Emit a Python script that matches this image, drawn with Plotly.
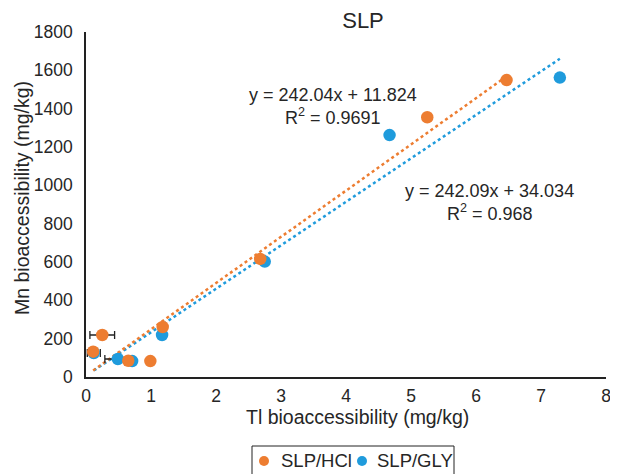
import numpy as np
import plotly.graph_objects as go

# Data
hcl_x = [0.11, 0.25, 0.65, 0.99, 1.18, 2.68, 5.25, 6.47]
hcl_y = [132, 219, 85, 83, 261, 616, 1355, 1549]
hcl_xerr = [0, 0.19, 0, 0, 0, 0, 0, 0]

gly_x = [0.12, 0.49, 0.71, 1.17, 2.75, 4.67, 7.29]
gly_y = [125, 94, 83, 219, 602, 1262, 1562]
gly_xerr = [0.1, 0.2, 0, 0, 0, 0, 0]

eq_hcl = ["y = 242.04x + 11.824", "R<sup>2</sup> = 0.9691"]
eq_gly = ["y = 242.09x + 34.034", "R<sup>2</sup> = 0.968"]

series_names = ["SLP/HCl", "SLP/GLY"]

ORANGE = "#ED7D31"
BLUE = "#1F9BDC"
TXT = "#262626"
FONT = "Liberation Sans, Arial, sans-serif"

# the page body has an 8px margin; the figure sits at (8, 8)
OFF = 8
PAGE_W, PAGE_H = 618, 474
W, H = PAGE_W - OFF, PAGE_H - OFF
# plot area in page pixels: x 86..606, y 32..377
L, R, T, B = 86 - OFF, PAGE_W - 606, 32 - OFF, PAGE_H - 377
PW, PH = W - L - R, H - T - B


def px2paper(px, py):
    """page pixel -> paper coordinates"""
    return (px - OFF - L) / PW, (H - B - (py - OFF)) / PH


def trend(xs, ys):
    k, b = np.polyfit(xs, ys, 1)
    xx = np.array([min(xs), max(xs)])
    return xx, k * xx + b


fig = go.Figure()

tx, ty = trend(gly_x, gly_y)
fig.add_trace(go.Scatter(x=tx, y=ty, mode="lines", line=dict(color=BLUE, width=2.5, dash="dot"),
                         showlegend=False, hoverinfo="skip"))
tx, ty = trend(hcl_x, hcl_y)
fig.add_trace(go.Scatter(x=tx, y=ty, mode="lines", line=dict(color=ORANGE, width=2.5, dash="dot"),
                         showlegend=False, hoverinfo="skip"))

fig.add_trace(go.Scatter(x=gly_x, y=gly_y, mode="markers", name=series_names[1],
                         marker=dict(color=BLUE, size=12.5), showlegend=False,
                         error_x=dict(type="data", array=gly_xerr, color="#222", thickness=1.3, width=4)))
fig.add_trace(go.Scatter(x=hcl_x, y=hcl_y, mode="markers", name=series_names[0],
                         marker=dict(color=ORANGE, size=12.5), showlegend=False,
                         error_x=dict(type="data", array=hcl_xerr, color="#222", thickness=1.3, width=4)))

# equation labels
for txt, (ax, ay) in zip(eq_hcl, [(333, 95), (333, 116)]):
    xp, yp = px2paper(ax, ay)
    fig.add_annotation(xref="paper", yref="paper", x=xp, y=yp, text=txt, showarrow=False,
                       xanchor="center", yanchor="middle", font=dict(size=18, color=TXT, family=FONT))
for txt, (ax, ay) in zip(eq_gly, [(489, 191), (490, 212)]):
    xp, yp = px2paper(ax, ay)
    fig.add_annotation(xref="paper", yref="paper", x=xp, y=yp, text=txt, showarrow=False,
                       xanchor="center", yanchor="middle", font=dict(size=18, color=TXT, family=FONT))

# axis titles
xp, yp = px2paper(357, 417)
fig.add_annotation(xref="paper", yref="paper", x=xp, y=yp, text="Tl bioaccessibility (mg/kg)",
                   showarrow=False, xanchor="center", yanchor="middle",
                   font=dict(size=19.5, color=TXT, family=FONT))
xp, yp = px2paper(22, 198)
fig.add_annotation(xref="paper", yref="paper", x=xp, y=yp, text="Mn bioaccessibility (mg/kg)",
                   showarrow=False, xanchor="center", yanchor="middle", textangle=-90,
                   font=dict(size=19.5, color=TXT, family=FONT))

# custom legend (box, markers, labels)
x0, y0 = px2paper(252, 446)
x1, y1 = px2paper(454, 480)
fig.add_shape(type="rect", xref="paper", yref="paper", x0=x0, y0=y0, x1=x1, y1=y1,
              line=dict(color="#222", width=1), fillcolor="white", layer="above")
for name, col, mx, tx_ in [(series_names[0], ORANGE, 264, 279), (series_names[1], BLUE, 362, 375)]:
    cx, cy = px2paper(mx, 461)
    fig.add_shape(type="circle", xref="paper", yref="paper", xsizemode="pixel", ysizemode="pixel",
                  xanchor=cx, yanchor=cy, x0=-5, x1=5, y0=-5, y1=5,
                  fillcolor=col, line=dict(color=col, width=0), layer="above")
    lx, ly = px2paper(tx_, 460)
    fig.add_annotation(xref="paper", yref="paper", x=lx, y=ly, text=name, showarrow=False,
                       xanchor="left", yanchor="middle", font=dict(size=18.5, color=TXT, family=FONT))

fig.update_layout(
    width=W, height=H,
    margin=dict(l=L, r=R, t=T, b=B),
    paper_bgcolor="white", plot_bgcolor="white",
    font=dict(family=FONT, size=18, color=TXT),
    title=dict(text="SLP", x=(363 - OFF) / W, xref="container", xanchor="center",
               y=1 - (20 - OFF) / H, yref="container", yanchor="middle",
               font=dict(size=22, color=TXT, family=FONT)),
    xaxis=dict(range=[0, 8], dtick=1, showgrid=False, zeroline=False, showline=True,
               linecolor="#222", linewidth=1.5, ticks="", tickfont=dict(size=17.5),
               ticklabelstandoff=2, automargin=False),
    yaxis=dict(range=[0, 1800], dtick=200, showgrid=False, zeroline=False, showline=True,
               linecolor="#222", linewidth=1.5, ticks="", tickfont=dict(size=17.5),
               ticklabelstandoff=8, automargin=False),
    showlegend=False,
)

fig.write_html("out.html")
